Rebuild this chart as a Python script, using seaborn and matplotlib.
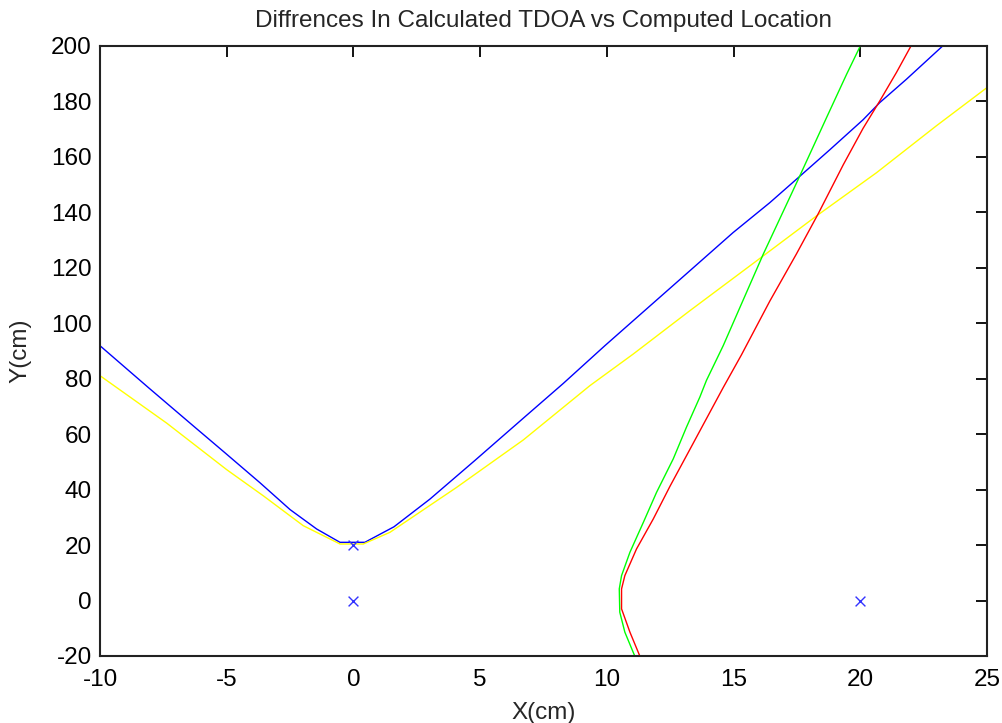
import matplotlib
matplotlib.use("Agg")
import matplotlib.pyplot as plt
import seaborn as sns
import pandas as pd

# ---- data ----
blue_x = [-10, -8.09, -6.32, -5.07, -3.69, -2.5, -1.45, -0.53, 0.45, 1.6, 3.02, 4.79,
          6.77, 8.28, 9.92, 13.27, 14.98, 16.43, 17.55, 18.80, 20.11, 20.77, 21.82, 23.25]
blue_y = [91.9, 76.8, 63.0, 53.3, 42.5, 32.8, 25.8, 21.0, 21.0, 26.6, 36.6, 50.5,
          66.3, 78.3, 91.9, 118.9, 132.7, 143.5, 152.5, 162.6, 173.4, 179.6, 188.0, 200]

yellow_x = [-10, -7.37, -5.0, -3.56, -1.98, -0.53, 0.39, 1.44, 4.07, 6.70, 9.33, 11.04,
            13.27, 16.17, 18.27, 20.64, 23.0, 25.0]
yellow_y = [81.1, 64.0, 47.2, 37.8, 27.0, 20.4, 20.4, 24.6, 40.8, 57.9, 77.5, 88.9,
            104.5, 124.3, 138.7, 154.3, 171.2, 185.0]

green_x = [11.1, 10.71, 10.51, 10.49, 10.58, 10.91, 11.44, 11.96, 12.62, 13.14, 13.67,
           13.93, 14.59, 15.25, 16.17, 17.55, 18.67, 19.46, 20.0]
green_y = [-20, -11.4, -4.2, 4.2, 9.0, 17.4, 28.2, 39.0, 51.1, 62.5, 73.4,
           79.4, 91.9, 105.7, 124.9, 151.9, 174.2, 189.8, 200]

red_x = [11.3, 10.91, 10.58, 10.58, 10.71, 11.17, 11.83, 12.49, 13.27, 13.80, 14.59,
         15.31, 16.43, 17.48, 18.34, 19.33, 20.11, 20.77, 21.43, 22.0]
red_y = [-20, -11.4, -3.0, 4.2, 9.0, 18.6, 29.4, 41.2, 54.4, 63.4, 76.8,
         88.6, 108.0, 125.0, 139.5, 157.2, 170.3, 180.2, 190.5, 200]

mic_x = [0, 0, 20]
mic_y = [0, 20, 0]

x_ticks = [-10, -5, 0, 5, 10, 15, 20, 25]
y_ticks = [-20, 0, 20, 40, 60, 80, 100, 120, 140, 160, 180, 200]

title = "Diffrences In Calculated TDOA vs Computed Location"
xlabel = "X(cm)"
ylabel = "Y(cm)"

# ---- style ----
sns.set_style("white")
plt.rcParams["font.family"] = ["Liberation Sans", "DejaVu Sans"]

fig = plt.figure(figsize=(10.02, 7.23), dpi=100)
ax = fig.add_axes([100 / 1002, 1 - 656 / 723, 887 / 1002, 610 / 723])

curves = [
    (blue_x, blue_y, "#0000ff"),
    (yellow_x, yellow_y, "#ffff00"),
    (green_x, green_y, "#00ff00"),
    (red_x, red_y, "#ff0000"),
]
for xs, ys, col in curves:
    df = pd.DataFrame({"x": xs, "y": ys})
    sns.lineplot(data=df, x="x", y="y", sort=False, estimator=None,
                 color=col, linewidth=1.0, ax=ax)

mdf = pd.DataFrame({"x": mic_x, "y": mic_y})
sns.scatterplot(data=mdf, x="x", y="y", marker="x", color="#3333ff",
                s=50, linewidth=1.0, ax=ax, zorder=5)

ax.set_xlim(-10, 25)
ax.set_ylim(-20, 200)
ax.set_xticks(x_ticks)
ax.set_yticks(y_ticks)
ax.set_xticklabels([str(v) for v in x_ticks])
ax.set_yticklabels([str(v) for v in y_ticks])

ax.tick_params(direction="in", length=8, width=1.3, top=True, right=True,
               labelsize=17.5, colors="black")
ax.tick_params(axis="x", pad=9)
ax.tick_params(axis="y", pad=6)
for sp in ax.spines.values():
    sp.set_visible(True)
    sp.set_color("#222222")
    sp.set_linewidth(1.5)

ax.set_title(title, fontsize=17.5, pad=14)
ax.set_xlabel(xlabel, fontsize=17.5, labelpad=8)
ax.set_ylabel(ylabel, fontsize=17.5, labelpad=14)

fig.savefig("out.png", dpi=100, facecolor="white")
